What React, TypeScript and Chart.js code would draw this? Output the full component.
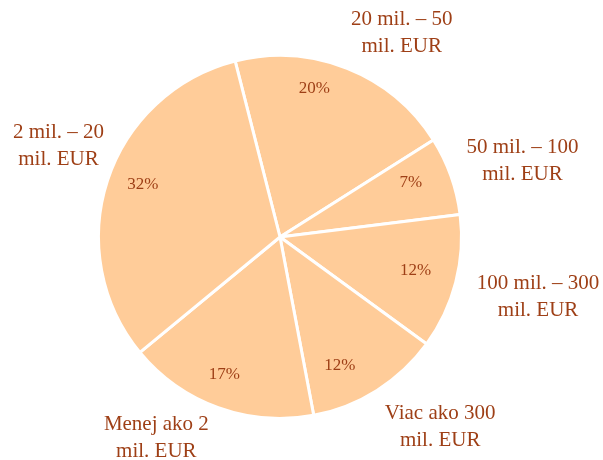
import React, { useEffect, useRef } from "react";
import { Chart, registerables } from "chart.js";

Chart.register(...registerables);

const categories: string[][] = [
  ["20 mil. – 50", "mil. EUR"],
  ["50 mil. – 100", "mil. EUR"],
  ["100 mil. – 300", "mil. EUR"],
  ["Viac ako 300", "mil. EUR"],
  ["Menej ako 2", "mil. EUR"],
  ["2 mil. – 20", "mil. EUR"],
];
const shares: number[] = [20, 7, 12, 12, 17, 32];
const shareLabels: string[] = ["20%", "7%", "12%", "12%", "17%", "32%"];

// placement tweaks (angle offset in degrees from slice middle, distance as fraction of radius)
const pctPlacement = [
  { da: -8.7, f: 0.84 },
  { da: -2.8, f: 0.78 },
  { da: -0.5, f: 0.77 },
  { da: 7.3, f: 0.78 },
  { da: 2.1, f: 0.82 },
  { da: 2.9, f: 0.81 },
];
const catPlacement = [
  { da: 9.1, f: 1.31 },
  { da: 2.3, f: 1.40 },
  { da: -1.4, f: 1.46 },
  { da: -7.8, f: 1.37 },
  { da: 11.7, f: 1.30 },
  { da: 4.3, f: 1.32 },
];

const TEXT_COLOR = "#9E3F16";
const FILL = "#FFCC99";

const labelPlugin = {
  id: "sliceLabels",
  afterDatasetsDraw(chart: any) {
    const ctx = chart.ctx;
    const meta = chart.getDatasetMeta(0);
    ctx.save();
    ctx.fillStyle = TEXT_COLOR;
    ctx.textAlign = "center";
    ctx.textBaseline = "middle";
    meta.data.forEach((arc: any, i: number) => {
      const p = arc.getProps(["x", "y", "startAngle", "endAngle", "outerRadius"], true);
      const mid = (p.startAngle + p.endAngle) / 2;
      const pp = pctPlacement[i];
      const a1 = mid + (pp.da * Math.PI) / 180;
      ctx.font = "17px 'Liberation Serif', 'Times New Roman', serif";
      ctx.fillText(shareLabels[i], p.x + Math.cos(a1) * p.outerRadius * pp.f, p.y + Math.sin(a1) * p.outerRadius * pp.f);
      const cp = catPlacement[i];
      const a2 = mid + (cp.da * Math.PI) / 180;
      const cx = p.x + Math.cos(a2) * p.outerRadius * cp.f;
      const cy = p.y + Math.sin(a2) * p.outerRadius * cp.f;
      ctx.font = "21px 'Liberation Serif', 'Times New Roman', serif";
      const lines = categories[i];
      const lh = 27;
      lines.forEach((ln, k) => {
        ctx.fillText(ln, cx, cy + (k - (lines.length - 1) / 2) * lh);
      });
    });
    ctx.restore();
  },
};

export default function App() {
  const ref = useRef<HTMLCanvasElement>(null);
  useEffect(() => {
    if (!ref.current) return;
    const chart = new Chart(ref.current, {
      type: "pie",
      data: {
        labels: categories.map((c) => c.join(" ")),
        datasets: [
          {
            data: shares,
            backgroundColor: FILL,
            borderColor: "#FFFFFF",
            borderWidth: 3,
          },
        ],
      },
      options: {
        responsive: false,
        animation: false,
        rotation: -14.3,
        layout: { padding: { left: 97, right: 140, top: 54, bottom: 40 } },
        plugins: {
          legend: { display: false },
          tooltip: { enabled: false },
        },
      },
      plugins: [labelPlugin],
    });
    return () => chart.destroy();
  }, []);
  return (
    <div style={{ position: "absolute", left: 0, top: 0, width: 603, height: 460, background: "#fff" }}>
      <canvas ref={ref} width={603} height={460} />
    </div>
  );
}
